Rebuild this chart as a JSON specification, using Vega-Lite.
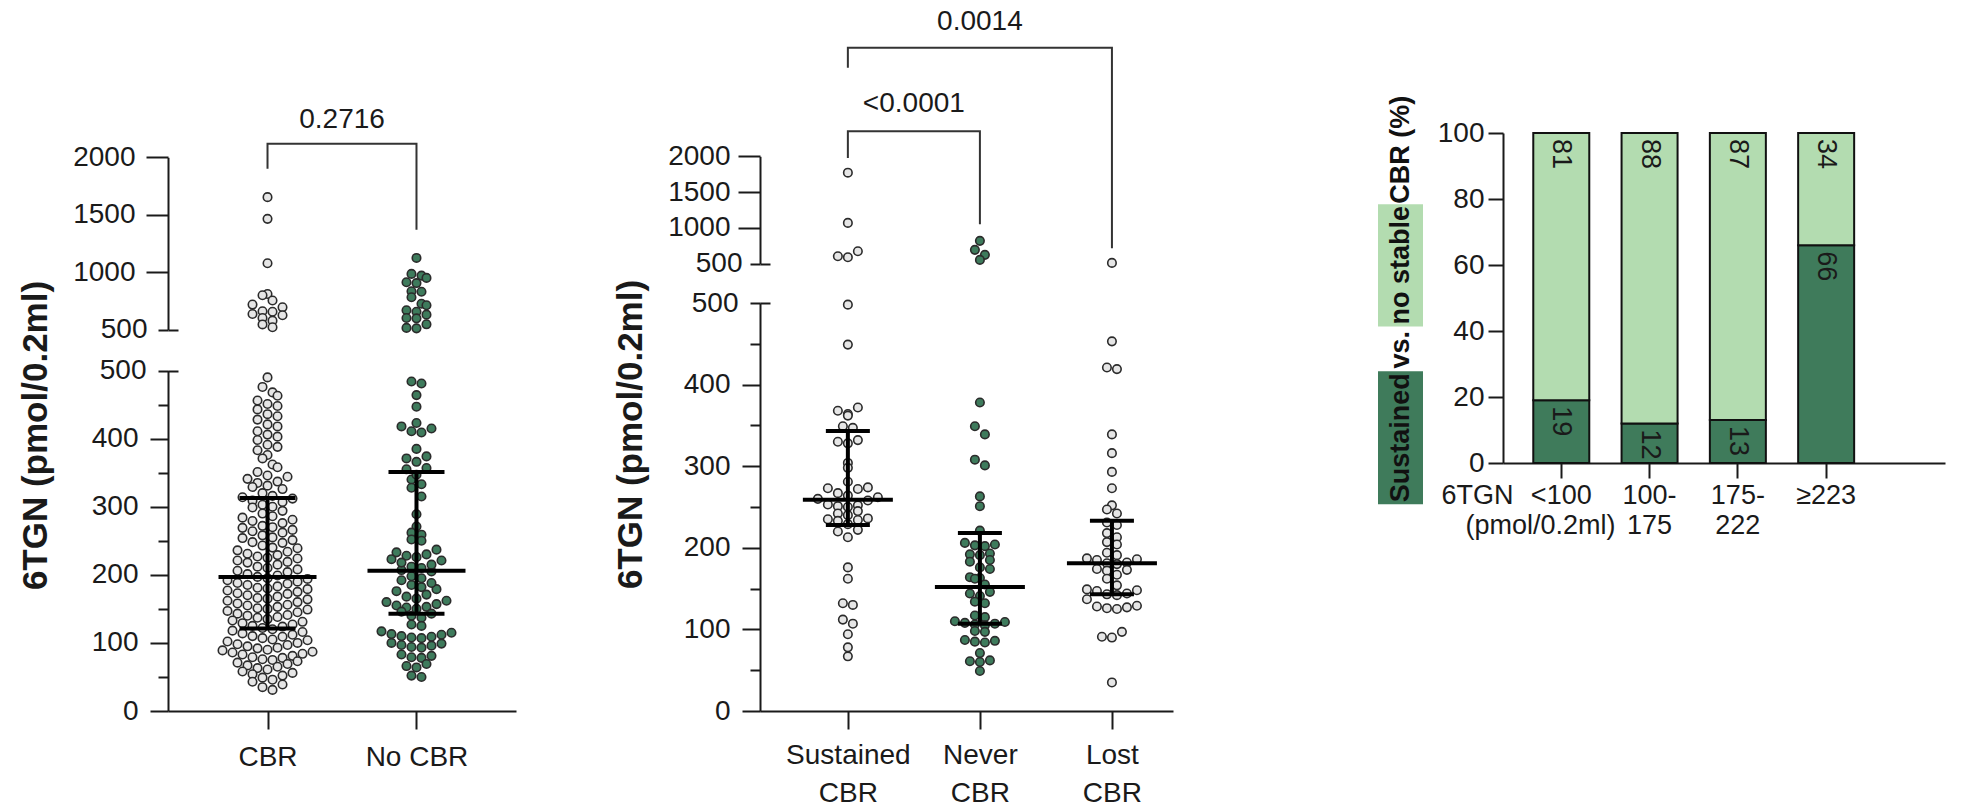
{
"$schema":"https://vega.github.io/schema/vega-lite/v6.json",
"autosize":{"type":"pad"},
"padding":{"left":18,"top":7,"right":10,"bottom":10},
"background":"white",
"config":{"font":"Liberation Sans","view":{"stroke":null},
 "axis":{"grid":false,"domainColor":"#1a1a1a","domainWidth":2,"tickColor":"#1a1a1a","tickWidth":2,"labelFont":"Liberation Sans","labelFontSize":28,"labelColor":"#1a1a1a","titleFont":"Liberation Sans","titleFontSize":35,"titleFontWeight":"bold","titleColor":"#1a1a1a"}},
"datasets":{
"pa":[
{"g":"CBR","v":1653},{"g":"CBR","v":1464},{"g":"CBR","v":1078},{"g":"CBR","v":810},{"g":"CBR","v":799},{"g":"CBR","v":753},{"g":"CBR","v":718},{"g":"CBR","v":694},{"g":"CBR","v":660},{"g":"CBR","v":655},{"g":"CBR","v":636},{"g":"CBR","v":625},{"g":"CBR","v":601},{"g":"CBR","v":578},{"g":"CBR","v":545},{"g":"CBR","v":520},
{"g":"CBR","v":490},{"g":"CBR","v":468},{"g":"CBR","v":476},{"g":"CBR","v":451},{"g":"CBR","v":456},{"g":"CBR","v":463},{"g":"CBR","v":436},{"g":"CBR","v":443},{"g":"CBR","v":448},{"g":"CBR","v":421},{"g":"CBR","v":428},{"g":"CBR","v":433},{"g":"CBR","v":406},{"g":"CBR","v":411},{"g":"CBR","v":418},{"g":"CBR","v":391},{"g":"CBR","v":398},{"g":"CBR","v":403},{"g":"CBR","v":376},{"g":"CBR","v":383},{"g":"CBR","v":388},{"g":"CBR","v":362},{"g":"CBR","v":371},{"g":"CBR","v":346},{"g":"CBR","v":351},{"g":"CBR","v":358},{"g":"CBR","v":331},{"g":"CBR","v":335},{"g":"CBR","v":337},{"g":"CBR","v":341},{"g":"CBR","v":344},{"g":"CBR","v":316},{"g":"CBR","v":320},{"g":"CBR","v":326},{"g":"CBR","v":329},{"g":"CBR","v":300},{"g":"CBR","v":303},{"g":"CBR","v":307},{"g":"CBR","v":309},{"g":"CBR","v":312},{"g":"CBR","v":314},{"g":"CBR","v":286},{"g":"CBR","v":290},{"g":"CBR","v":294},{"g":"CBR","v":299},{"g":"CBR","v":270},{"g":"CBR","v":272},{"g":"CBR","v":276},{"g":"CBR","v":279},{"g":"CBR","v":281},{"g":"CBR","v":284},{"g":"CBR","v":255},{"g":"CBR","v":258},{"g":"CBR","v":262},{"g":"CBR","v":264},{"g":"CBR","v":266},{"g":"CBR","v":269},{"g":"CBR","v":240},{"g":"CBR","v":243},{"g":"CBR","v":247},{"g":"CBR","v":248},{"g":"CBR","v":251},{"g":"CBR","v":254},{"g":"CBR","v":225},{"g":"CBR","v":227},{"g":"CBR","v":229},{"g":"CBR","v":231},{"g":"CBR","v":234},{"g":"CBR","v":236},{"g":"CBR","v":239},{"g":"CBR","v":210},{"g":"CBR","v":212},{"g":"CBR","v":215},{"g":"CBR","v":218},{"g":"CBR","v":219},{"g":"CBR","v":221},{"g":"CBR","v":224},{"g":"CBR","v":195},{"g":"CBR","v":197},{"g":"CBR","v":199},{"g":"CBR","v":201},{"g":"CBR","v":204},{"g":"CBR","v":206},{"g":"CBR","v":208},{"g":"CBR","v":180},{"g":"CBR","v":181},{"g":"CBR","v":183},{"g":"CBR","v":185},{"g":"CBR","v":187},{"g":"CBR","v":188},{"g":"CBR","v":190},{"g":"CBR","v":192},{"g":"CBR","v":194},{"g":"CBR","v":165},{"g":"CBR","v":166},{"g":"CBR","v":168},{"g":"CBR","v":170},{"g":"CBR","v":172},{"g":"CBR","v":173},{"g":"CBR","v":175},{"g":"CBR","v":177},{"g":"CBR","v":179},{"g":"CBR","v":150},{"g":"CBR","v":151},{"g":"CBR","v":153},{"g":"CBR","v":155},{"g":"CBR","v":156},{"g":"CBR","v":158},{"g":"CBR","v":160},{"g":"CBR","v":162},{"g":"CBR","v":164},{"g":"CBR","v":135},{"g":"CBR","v":137},{"g":"CBR","v":138},{"g":"CBR","v":140},{"g":"CBR","v":141},{"g":"CBR","v":143},{"g":"CBR","v":145},{"g":"CBR","v":147},{"g":"CBR","v":149},{"g":"CBR","v":120},{"g":"CBR","v":122},{"g":"CBR","v":124},{"g":"CBR","v":125},{"g":"CBR","v":127},{"g":"CBR","v":129},{"g":"CBR","v":131},{"g":"CBR","v":133},{"g":"CBR","v":105},{"g":"CBR","v":107},{"g":"CBR","v":109},{"g":"CBR","v":110},{"g":"CBR","v":112},{"g":"CBR","v":114},{"g":"CBR","v":116},{"g":"CBR","v":118},{"g":"CBR","v":90},{"g":"CBR","v":92},{"g":"CBR","v":93},{"g":"CBR","v":95},{"g":"CBR","v":97},{"g":"CBR","v":98},{"g":"CBR","v":100},{"g":"CBR","v":102},{"g":"CBR","v":104},{"g":"CBR","v":75},{"g":"CBR","v":76},{"g":"CBR","v":78},{"g":"CBR","v":79},{"g":"CBR","v":81},{"g":"CBR","v":83},{"g":"CBR","v":84},{"g":"CBR","v":86},{"g":"CBR","v":87},{"g":"CBR","v":89},{"g":"CBR","v":61},{"g":"CBR","v":63},{"g":"CBR","v":65},{"g":"CBR","v":67},{"g":"CBR","v":69},{"g":"CBR","v":71},{"g":"CBR","v":73},{"g":"CBR","v":46},{"g":"CBR","v":49},{"g":"CBR","v":52},{"g":"CBR","v":54},{"g":"CBR","v":56},{"g":"CBR","v":58},{"g":"CBR","v":31},{"g":"CBR","v":35},{"g":"CBR","v":39},{"g":"CBR","v":43},
{"g":"No CBR","v":1124},{"g":"No CBR","v":985},{"g":"No CBR","v":970},{"g":"No CBR","v":950},{"g":"No CBR","v":912},{"g":"No CBR","v":905},{"g":"No CBR","v":834},{"g":"No CBR","v":830},{"g":"No CBR","v":782},{"g":"No CBR","v":725},{"g":"No CBR","v":712},{"g":"No CBR","v":668},{"g":"No CBR","v":655},{"g":"No CBR","v":630},{"g":"No CBR","v":601},{"g":"No CBR","v":598},{"g":"No CBR","v":546},{"g":"No CBR","v":515},{"g":"No CBR","v":511},
{"g":"No CBR","v":481},{"g":"No CBR","v":484},{"g":"No CBR","v":464},{"g":"No CBR","v":447},{"g":"No CBR","v":415},{"g":"No CBR","v":418},{"g":"No CBR","v":423},{"g":"No CBR","v":409},{"g":"No CBR","v":411},{"g":"No CBR","v":385},{"g":"No CBR","v":371},{"g":"No CBR","v":374},{"g":"No CBR","v":366},{"g":"No CBR","v":355},{"g":"No CBR","v":357},{"g":"No CBR","v":333},{"g":"No CBR","v":340},{"g":"No CBR","v":347},{"g":"No CBR","v":315},{"g":"No CBR","v":328},{"g":"No CBR","v":289},{"g":"No CBR","v":271},{"g":"No CBR","v":259},{"g":"No CBR","v":262},{"g":"No CBR","v":250},{"g":"No CBR","v":252},{"g":"No CBR","v":221},{"g":"No CBR","v":223},{"g":"No CBR","v":226},{"g":"No CBR","v":228},{"g":"No CBR","v":230},{"g":"No CBR","v":233},{"g":"No CBR","v":237},{"g":"No CBR","v":205},{"g":"No CBR","v":207},{"g":"No CBR","v":210},{"g":"No CBR","v":212},{"g":"No CBR","v":215},{"g":"No CBR","v":218},{"g":"No CBR","v":176},{"g":"No CBR","v":179},{"g":"No CBR","v":182},{"g":"No CBR","v":185},{"g":"No CBR","v":188},{"g":"No CBR","v":192},{"g":"No CBR","v":195},{"g":"No CBR","v":198},{"g":"No CBR","v":152},{"g":"No CBR","v":153},{"g":"No CBR","v":155},{"g":"No CBR","v":157},{"g":"No CBR","v":160},{"g":"No CBR","v":162},{"g":"No CBR","v":165},{"g":"No CBR","v":168},{"g":"No CBR","v":171},{"g":"No CBR","v":137},{"g":"No CBR","v":140},{"g":"No CBR","v":143},{"g":"No CBR","v":146},{"g":"No CBR","v":150},{"g":"No CBR","v":125},{"g":"No CBR","v":127},{"g":"No CBR","v":107},{"g":"No CBR","v":108},{"g":"No CBR","v":109},{"g":"No CBR","v":110},{"g":"No CBR","v":112},{"g":"No CBR","v":113},{"g":"No CBR","v":115},{"g":"No CBR","v":117},{"g":"No CBR","v":93},{"g":"No CBR","v":94},{"g":"No CBR","v":96},{"g":"No CBR","v":97},{"g":"No CBR","v":99},{"g":"No CBR","v":100},{"g":"No CBR","v":78},{"g":"No CBR","v":79},{"g":"No CBR","v":81},{"g":"No CBR","v":83},{"g":"No CBR","v":64},{"g":"No CBR","v":66},{"g":"No CBR","v":69},{"g":"No CBR","v":50},{"g":"No CBR","v":52}
],
"pb":[
{"g":"Sustained CBR","v":1771},{"g":"Sustained CBR","v":1069},{"g":"Sustained CBR","v":672},{"g":"Sustained CBR","v":602},{"g":"Sustained CBR","v":588},
{"g":"Sustained CBR","v":498},{"g":"Sustained CBR","v":449},{"g":"Sustained CBR","v":372},{"g":"Sustained CBR","v":368},{"g":"Sustained CBR","v":364},{"g":"Sustained CBR","v":362},{"g":"Sustained CBR","v":349},{"g":"Sustained CBR","v":347},{"g":"Sustained CBR","v":332},{"g":"Sustained CBR","v":330},{"g":"Sustained CBR","v":328},{"g":"Sustained CBR","v":304},{"g":"Sustained CBR","v":298},{"g":"Sustained CBR","v":281},{"g":"Sustained CBR","v":274},{"g":"Sustained CBR","v":273},{"g":"Sustained CBR","v":272},{"g":"Sustained CBR","v":267},{"g":"Sustained CBR","v":264},{"g":"Sustained CBR","v":262},{"g":"Sustained CBR","v":260},{"g":"Sustained CBR","v":258},{"g":"Sustained CBR","v":253},{"g":"Sustained CBR","v":252},{"g":"Sustained CBR","v":251},{"g":"Sustained CBR","v":250},{"g":"Sustained CBR","v":245},{"g":"Sustained CBR","v":242},{"g":"Sustained CBR","v":240},{"g":"Sustained CBR","v":236},{"g":"Sustained CBR","v":235},{"g":"Sustained CBR","v":234},{"g":"Sustained CBR","v":233},{"g":"Sustained CBR","v":229},{"g":"Sustained CBR","v":222},{"g":"Sustained CBR","v":220},{"g":"Sustained CBR","v":213},{"g":"Sustained CBR","v":176},{"g":"Sustained CBR","v":162},{"g":"Sustained CBR","v":132},{"g":"Sustained CBR","v":130},{"g":"Sustained CBR","v":112},{"g":"Sustained CBR","v":107},{"g":"Sustained CBR","v":94},{"g":"Sustained CBR","v":78},{"g":"Sustained CBR","v":67},
{"g":"Never CBR","v":818},{"g":"Never CBR","v":692},{"g":"Never CBR","v":622},{"g":"Never CBR","v":552},
{"g":"Never CBR","v":378},{"g":"Never CBR","v":349},{"g":"Never CBR","v":339},{"g":"Never CBR","v":308},{"g":"Never CBR","v":301},{"g":"Never CBR","v":263},{"g":"Never CBR","v":251},{"g":"Never CBR","v":221},{"g":"Never CBR","v":206},{"g":"Never CBR","v":204},{"g":"Never CBR","v":203},{"g":"Never CBR","v":202},{"g":"Never CBR","v":193},{"g":"Never CBR","v":192},{"g":"Never CBR","v":191},{"g":"Never CBR","v":185},{"g":"Never CBR","v":183},{"g":"Never CBR","v":176},{"g":"Never CBR","v":174},{"g":"Never CBR","v":164},{"g":"Never CBR","v":163},{"g":"Never CBR","v":162},{"g":"Never CBR","v":155},{"g":"Never CBR","v":146},{"g":"Never CBR","v":144},{"g":"Never CBR","v":141},{"g":"Never CBR","v":134},{"g":"Never CBR","v":132},{"g":"Never CBR","v":117},{"g":"Never CBR","v":115},{"g":"Never CBR","v":110},{"g":"Never CBR","v":109},{"g":"Never CBR","v":108},{"g":"Never CBR","v":107},{"g":"Never CBR","v":106},{"g":"Never CBR","v":105},{"g":"Never CBR","v":98},{"g":"Never CBR","v":97},{"g":"Never CBR","v":87},{"g":"Never CBR","v":86},{"g":"Never CBR","v":85},{"g":"Never CBR","v":84},{"g":"Never CBR","v":71},{"g":"Never CBR","v":62},{"g":"Never CBR","v":61},{"g":"Never CBR","v":60},{"g":"Never CBR","v":49},
{"g":"Lost CBR","v":510},
{"g":"Lost CBR","v":453},{"g":"Lost CBR","v":421},{"g":"Lost CBR","v":419},{"g":"Lost CBR","v":339},{"g":"Lost CBR","v":316},{"g":"Lost CBR","v":293},{"g":"Lost CBR","v":273},{"g":"Lost CBR","v":252},{"g":"Lost CBR","v":247},{"g":"Lost CBR","v":242},{"g":"Lost CBR","v":231},{"g":"Lost CBR","v":228},{"g":"Lost CBR","v":218},{"g":"Lost CBR","v":213},{"g":"Lost CBR","v":207},{"g":"Lost CBR","v":204},{"g":"Lost CBR","v":194},{"g":"Lost CBR","v":191},{"g":"Lost CBR","v":187},{"g":"Lost CBR","v":186},{"g":"Lost CBR","v":185},{"g":"Lost CBR","v":182},{"g":"Lost CBR","v":181},{"g":"Lost CBR","v":180},{"g":"Lost CBR","v":174},{"g":"Lost CBR","v":173},{"g":"Lost CBR","v":172},{"g":"Lost CBR","v":167},{"g":"Lost CBR","v":162},{"g":"Lost CBR","v":154},{"g":"Lost CBR","v":149},{"g":"Lost CBR","v":148},{"g":"Lost CBR","v":147},{"g":"Lost CBR","v":144},{"g":"Lost CBR","v":143},{"g":"Lost CBR","v":142},{"g":"Lost CBR","v":137},{"g":"Lost CBR","v":129},{"g":"Lost CBR","v":128},{"g":"Lost CBR","v":127},{"g":"Lost CBR","v":126},{"g":"Lost CBR","v":125},{"g":"Lost CBR","v":97},{"g":"Lost CBR","v":91},{"g":"Lost CBR","v":90},{"g":"Lost CBR","v":35}
],
"sa":[{"g":"CBR","med":197,"q1":121,"q3":313},{"g":"No CBR","med":206,"q1":143,"q3":351}],
"sb":[{"g":"Sustained CBR","med":259,"q1":228,"q3":343},{"g":"Never CBR","med":152,"q1":107,"q3":218},{"g":"Lost CBR","med":181,"q1":143,"q3":233}],
"bra":[{"br":"a","o":1,"g":"CBR","v":1901},{"br":"a","o":2,"g":"CBR","v":2119},{"br":"a","o":3,"g":"No CBR","v":2119},{"br":"a","o":4,"g":"No CBR","v":1369}],
"brb":[{"br":"outer","o":1,"g":"Sustained CBR","v":3238},{"br":"outer","o":2,"g":"Sustained CBR","v":3518},{"br":"outer","o":3,"g":"Lost CBR","v":3518},{"br":"outer","o":4,"g":"Lost CBR","v":714},
{"br":"inner","o":1,"g":"Sustained CBR","v":1976},{"br":"inner","o":2,"g":"Sustained CBR","v":2350},{"br":"inner","o":3,"g":"Never CBR","v":2350},{"br":"inner","o":4,"g":"Never CBR","v":1051}],
"pc":[{"bin":"<100","status":"Sustained","ord":1,"pct":19},{"bin":"<100","status":"no stable","ord":2,"pct":81},
{"bin":"100-|175","status":"Sustained","ord":1,"pct":12},{"bin":"100-|175","status":"no stable","ord":2,"pct":88},
{"bin":"175-|222","status":"Sustained","ord":1,"pct":13},{"bin":"175-|222","status":"no stable","ord":2,"pct":87},
{"bin":"≥223","status":"Sustained","ord":1,"pct":66},{"bin":"≥223","status":"no stable","ord":2,"pct":34}],
"ct":[{"k":"t","w":"Sustained","y0":-12.5,"y1":27.8,"box":"dark"},{"k":"t","w":"vs.","y0":29,"y1":39.6,"box":"none"},{"k":"t","w":"no stable","y0":41.4,"y1":78.4,"box":"light"},{"k":"t","w":"CBR (%)","y0":79,"y1":110.8,"box":"none"}]
},
"bounds":"flush",
"spacing":0,
"hconcat":[
{"width":348,"height":578,
 "encoding":{"x":{"field":"g","type":"nominal","sort":null,"scale":{"type":"point","domain":["CBR","No CBR"],"padding":0.668,"align":0.5},"axis":{"title":null,"labelAngle":0,"tickSize":18,"labelPadding":14}}},
 "resolve":{"scale":{"y":"independent"},"axis":{"y":"independent"}},
 "layer":[
  {"encoding":{"y":{"field":"v","type":"quantitative","scale":{"domain":[0,500],"range":[578,237.6],"nice":false,"zero":false},"axis":{"orient":"left","values":[0,50,100,150,200,250,300,350,400,450,500],"format":"d","labelExpr":"datum.value % 100 == 0 ? datum.label : ''","tickSize":{"condition":{"test":"datum.value % 100 == 0 && datum.value < 500","value":18},"value":10},"labelPadding":12,"title":"6TGN (pmol/0.2ml)","titleX":-122,"titleY":302,"titleAngle":270,"titleAlign":"center","titleBaseline":"alphabetic"}}},
   "layer":[
    {"data":{"name":"pa"},"transform":[{"filter":"datum.v <= 500"},{"calculate":"floor(datum.v/15)","as":"row"},{"window":[{"op":"row_number","as":"rk"}],"groupby":["g","row"],"sort":[{"field":"v","order":"ascending"}]},{"joinaggregate":[{"op":"count","as":"n"}],"groupby":["g","row"]},{"calculate":"datum.n % 2 == 0 ? ((datum.rk-1) % 2 == 0 ? 1 : -1) * (floor((datum.rk-1)/2) + 0.5) : ((datum.rk-1) % 2 == 1 ? -1 : 1) * ceil((datum.rk-1)/2)","as":"off"}],
     "mark":{"type":"circle","size":72,"stroke":"#2b2b2b","strokeWidth":1.6,"opacity":1,"clip":false},
     "encoding":{"xOffset":{"field":"off","type":"quantitative","scale":{"domain":[-1,1],"range":[-10,10],"zero":false,"nice":false}},
       "fill":{"field":"g","type":"nominal","scale":{"domain":["CBR","No CBR"],"range":["#e6e6e6","#3e7b5c"]},"legend":null}}},
    {"data":{"name":"sa"},"transform":[{"calculate":"datum.q1","as":"v"}],"mark":{"type":"rule","strokeWidth":4,"color":"#000000"},"encoding":{"y2":{"field":"q3"}}},
    {"data":{"name":"sa"},"transform":[{"calculate":"datum.med","as":"v"}],"mark":{"type":"tick","orient":"horizontal","size":98,"thickness":4,"color":"#000000","opacity":1}},
    {"data":{"name":"sa"},"transform":[{"fold":["q1","q3"],"as":["k","v"]}],"mark":{"type":"tick","orient":"horizontal","size":56,"thickness":4,"color":"#000000","opacity":1}}
   ]},
  {"encoding":{"y":{"field":"v","type":"quantitative","scale":{"domain":[0,500],"range":[578,237.6],"nice":false,"zero":false},"axis":{"orient":"left","values":[500],"tickSize":-10,"labels":false,"domain":false,"title":null}}},
   "layer":[{"data":{"name":"sa"},"transform":[{"calculate":"datum.med","as":"v"}],"mark":{"type":"point","opacity":0}}]},
  {"encoding":{"y":{"field":"v","type":"quantitative","scale":{"domain":[500,2000],"range":[196.6,24.3],"nice":false,"zero":false},"axis":{"orient":"left","values":[500],"tickSize":-10,"labels":false,"domain":false,"title":null}}},
   "layer":[{"data":{"name":"bra"},"mark":{"type":"point","opacity":0}}]},
  {"encoding":{"y":{"field":"v","type":"quantitative","scale":{"domain":[500,2000],"range":[196.6,24.3],"nice":false,"zero":false},"axis":{"orient":"left","values":[500,1000,1500,2000],"format":"d","tickSize":{"condition":{"test":"datum.value == 500","value":10},"value":22},"labelPadding":11,"title":null}}},
   "layer":[
    {"data":{"name":"pa"},"transform":[{"filter":"datum.v > 500"},{"calculate":"floor(datum.v/80)","as":"row"},{"window":[{"op":"row_number","as":"rk"}],"groupby":["g","row"],"sort":[{"field":"v","order":"ascending"}]},{"joinaggregate":[{"op":"count","as":"n"}],"groupby":["g","row"]},{"calculate":"datum.n % 2 == 0 ? ((datum.rk-1) % 2 == 0 ? 1 : -1) * (floor((datum.rk-1)/2) + 0.5) : ((datum.rk-1) % 2 == 1 ? -1 : 1) * ceil((datum.rk-1)/2)","as":"off"}],
     "mark":{"type":"circle","size":72,"stroke":"#2b2b2b","strokeWidth":1.6,"opacity":1,"clip":false},
     "encoding":{"xOffset":{"field":"off","type":"quantitative","scale":{"domain":[-1,1],"range":[-10,10],"zero":false,"nice":false}},
       "fill":{"field":"g","type":"nominal","scale":{"domain":["CBR","No CBR"],"range":["#e6e6e6","#3e7b5c"]},"legend":null}}},
    {"data":{"name":"bra"},"mark":{"type":"line","stroke":"#333333","strokeWidth":2,"clip":false},"encoding":{"order":{"field":"o","type":"quantitative"},"detail":{"field":"br"}}},
    {"data":{"values":[{"g":"CBR","v":2329,"t":"0.2716"}]},"mark":{"type":"text","dx":74.5,"fontSize":28,"color":"#1a1a1a","align":"center","baseline":"middle","clip":false},"encoding":{"text":{"field":"t"}}}
   ]}
 ]},
{"width":244,"height":1,"data":{"values":[{"a":1}]},"mark":{"type":"point","opacity":0},"encoding":{}},
{"width":413,"height":578,
 "encoding":{"x":{"field":"g","type":"nominal","sort":null,"scale":{"type":"point","domain":["Sustained CBR","Never CBR","Lost CBR"],"padding":0.564,"align":0.59},"axis":{"title":null,"labelAngle":0,"tickSize":18,"labelPadding":12,"labelLineHeight":38,"labelExpr":"split(datum.label, ' ')"}}},
 "resolve":{"scale":{"y":"independent"},"axis":{"y":"independent"}},
 "layer":[
  {"encoding":{"y":{"field":"v","type":"quantitative","scale":{"domain":[0,500],"range":[578,170],"nice":false,"zero":false},"axis":{"orient":"left","values":[0,50,100,150,200,250,300,350,400,450,500],"format":"d","labelExpr":"datum.value % 100 == 0 ? datum.label : ''","tickSize":{"condition":{"test":"datum.value % 100 == 0 && datum.value < 500","value":18},"value":10},"labelPadding":12,"title":"6TGN (pmol/0.2ml)","titleX":-119,"titleY":301,"titleAngle":270,"titleAlign":"center","titleBaseline":"alphabetic"}}},
   "layer":[
    {"data":{"name":"pb"},"transform":[{"filter":"datum.v <= 500"},{"calculate":"floor(datum.v/12.5)","as":"row"},{"window":[{"op":"row_number","as":"rk"}],"groupby":["g","row"],"sort":[{"field":"v","order":"ascending"}]},{"joinaggregate":[{"op":"count","as":"n"}],"groupby":["g","row"]},{"calculate":"datum.n % 2 == 0 ? ((datum.rk-1) % 2 == 0 ? 1 : -1) * (floor((datum.rk-1)/2) + 0.5) : ((datum.rk-1) % 2 == 1 ? -1 : 1) * ceil((datum.rk-1)/2)","as":"off"}],
     "mark":{"type":"circle","size":72,"stroke":"#2b2b2b","strokeWidth":1.6,"opacity":1,"clip":false},
     "encoding":{"xOffset":{"field":"off","type":"quantitative","scale":{"domain":[-1,1],"range":[-10,10],"zero":false,"nice":false}},
       "fill":{"field":"g","type":"nominal","scale":{"domain":["Sustained CBR","Never CBR","Lost CBR"],"range":["#f4f4f4","#3e7b5c","#b5d8b3"]},"legend":null}}},
    {"data":{"name":"sb"},"transform":[{"calculate":"datum.q1","as":"v"}],"mark":{"type":"rule","strokeWidth":4,"color":"#000000"},"encoding":{"y2":{"field":"q3"}}},
    {"data":{"name":"sb"},"transform":[{"calculate":"datum.med","as":"v"}],"mark":{"type":"tick","orient":"horizontal","size":90,"thickness":4,"color":"#000000","opacity":1}},
    {"data":{"name":"sb"},"transform":[{"fold":["q1","q3"],"as":["k","v"]}],"mark":{"type":"tick","orient":"horizontal","size":44,"thickness":4,"color":"#000000","opacity":1}}
   ]},
  {"encoding":{"y":{"field":"v","type":"quantitative","scale":{"domain":[0,500],"range":[578,170],"nice":false,"zero":false},"axis":{"orient":"left","values":[500],"tickSize":-10,"labels":false,"domain":false,"title":null}}},
   "layer":[{"data":{"name":"sb"},"transform":[{"calculate":"datum.med","as":"v"}],"mark":{"type":"point","opacity":0}}]},
  {"encoding":{"y":{"field":"v","type":"quantitative","scale":{"domain":[500,2000],"range":[130.6,23.3],"nice":false,"zero":false},"axis":{"orient":"left","values":[500],"tickSize":-10,"labels":false,"domain":false,"title":null}}},
   "layer":[{"data":{"name":"brb"},"mark":{"type":"point","opacity":0}}]},
  {"encoding":{"y":{"field":"v","type":"quantitative","scale":{"domain":[500,2000],"range":[130.6,23.3],"nice":false,"zero":false},"axis":{"orient":"left","values":[500,1000,1500,2000],"format":"d","tickSize":{"condition":{"test":"datum.value == 500","value":10},"value":22},"labelPadding":8,"title":null}}},
   "layer":[
    {"data":{"name":"pb"},"transform":[{"filter":"datum.v > 500"},{"calculate":"floor(datum.v/140)","as":"row"},{"window":[{"op":"row_number","as":"rk"}],"groupby":["g","row"],"sort":[{"field":"v","order":"ascending"}]},{"joinaggregate":[{"op":"count","as":"n"}],"groupby":["g","row"]},{"calculate":"datum.n % 2 == 0 ? ((datum.rk-1) % 2 == 0 ? 1 : -1) * (floor((datum.rk-1)/2) + 0.5) : ((datum.rk-1) % 2 == 1 ? -1 : 1) * ceil((datum.rk-1)/2)","as":"off"}],
     "mark":{"type":"circle","size":72,"stroke":"#2b2b2b","strokeWidth":1.6,"opacity":1,"clip":false},
     "encoding":{"xOffset":{"field":"off","type":"quantitative","scale":{"domain":[-1,1],"range":[-10,10],"zero":false,"nice":false}},
       "fill":{"field":"g","type":"nominal","scale":{"domain":["Sustained CBR","Never CBR","Lost CBR"],"range":["#f4f4f4","#3e7b5c","#b5d8b3"]},"legend":null}}},
    {"data":{"name":"brb"},"mark":{"type":"line","stroke":"#333333","strokeWidth":2,"clip":false},"encoding":{"order":{"field":"o","type":"quantitative"},"detail":{"field":"br"}}},
    {"data":{"values":[{"g":"Never CBR","v":3883,"t":"0.0014"}]},"mark":{"type":"text","fontSize":28,"color":"#1a1a1a","align":"center","baseline":"middle","clip":false},"encoding":{"text":{"field":"t"}}},
    {"data":{"values":[{"g":"Sustained CBR","v":2729,"t":"<0.0001"}]},"mark":{"type":"text","dx":66,"fontSize":28,"color":"#1a1a1a","align":"center","baseline":"middle","clip":false},"encoding":{"text":{"field":"t"}}}
   ]}
 ]},
{"width":205,"height":1,"data":{"values":[{"a":1}]},"mark":{"type":"point","opacity":0},"encoding":{}},
{"width":45,"height":330,"data":{"name":"ct"},
 "encoding":{"x":{"field":"k","type":"nominal","scale":{"type":"band","paddingInner":0,"paddingOuter":0},"axis":null}},
 "layer":[
  {"transform":[{"filter":"datum.box != 'none'"}],"mark":{"type":"bar","size":45,"clip":false},
   "encoding":{"y":{"field":"y0","type":"quantitative","scale":{"domain":[0,100],"nice":false},"axis":null},"y2":{"field":"y1"},
     "color":{"field":"box","type":"nominal","scale":{"domain":["dark","light"],"range":["#3f7b5b","#b3dcb0"]},"legend":null}}},
  {"transform":[{"calculate":"(datum.y0 + datum.y1) / 2","as":"ym"}],"mark":{"type":"text","angle":270,"fontSize":27,"fontWeight":"bold","align":"center","baseline":"middle","color":"#111111","clip":false},
   "encoding":{"y":{"field":"ym","type":"quantitative","axis":null},"text":{"field":"w"}}}
 ]},
{"width":80,"height":1,"data":{"values":[{"a":1}]},"mark":{"type":"point","opacity":0},"encoding":{}},
{"width":442,"height":330,"data":{"name":"pc"},
 "transform":[{"stack":"pct","groupby":["bin"],"sort":[{"field":"ord","order":"ascending"}],"as":["p0","p1"]}],
 "resolve":{"axis":{"x":"independent"}},
 "layer":[
  {"mark":{"type":"bar","size":56,"stroke":"#111111","strokeWidth":2},
   "encoding":{"x":{"field":"bin","type":"nominal","sort":null,"scale":{"type":"band","domain":["<100","100-|175","175-|222","≥223"],"paddingInner":0.366,"paddingOuter":0.686,"align":0.25},
      "axis":{"title":"6TGN","titleFontWeight":"normal","titleFontSize":27,"titleAlign":"left","titleAnchor":"start","titleBaseline":"top","titleX":-62,"titleY":19,"labelAngle":0,"tickSize":15,"labelPadding":4,"labelFontSize":27,"labelLineHeight":30,"labelExpr":"split(datum.label, '|')"}},
     "y":{"field":"p0","type":"quantitative","scale":{"domain":[0,100],"nice":false},"axis":{"values":[0,20,40,60,80,100],"tickSize":15,"labelPadding":4,"title":null}},"y2":{"field":"p1"},
     "color":{"field":"status","type":"nominal","scale":{"domain":["Sustained","no stable"],"range":["#3f7b5b","#b3dcb0"]},"legend":null}}},
  {"mark":{"type":"text","angle":90,"align":"left","baseline":"middle","dx":6,"fontSize":27,"color":"#1a1a1a"},
   "encoding":{"x":{"field":"bin","type":"nominal","sort":null,"scale":{"type":"band","domain":["<100","100-|175","175-|222","≥223"],"paddingInner":0.366,"paddingOuter":0.686,"align":0.25},
      "axis":{"orient":"bottom","title":"(pmol/0.2ml)","titleFontWeight":"normal","titleFontSize":27,"titleAlign":"left","titleAnchor":"start","titleBaseline":"top","titleX":-38,"titleY":49,"labels":false,"ticks":false,"domain":false}},
     "y":{"field":"p1","type":"quantitative"},"text":{"field":"pct","type":"quantitative"}}}
 ]}
]
}
